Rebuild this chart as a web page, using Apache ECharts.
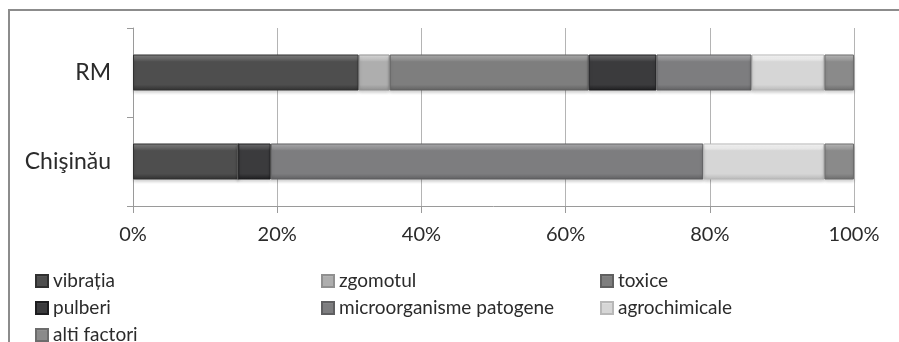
<!DOCTYPE html>
<html>
<head>
<meta charset="utf-8">
<script src="https://cdn.jsdelivr.net/npm/echarts@6/dist/echarts.min.js"></script>
<style>
  html, body { margin: 0; padding: 0; background: #fff; }
  #chart { width: 899px; height: 342px; }
</style>
</head>
<body>
<div id="chart"></div>
<script>
// Regions (top to bottom)
const categories = ['RM', 'Chişinău'];

// Share of each pollution factor, % (values per region, same order as categories)
const vibratia       = [31.3, 14.6];
const zgomotul       = [4.3, 0];
const toxice         = [27.6, 0];
const pulberi        = [9.4, 4.5];
const microorganisme = [13.2, 60.0];
const agrochimicale  = [10.1, 16.8];
const altiFactori    = [4.1, 4.1];

// Value axis ticks
const tickValues = [0, 20, 40, 60, 80, 100];

const seriesDefs = [
  { name: 'vibrația',                 data: vibratia,       color: '#4e4e4e' },
  { name: 'zgomotul',                 data: zgomotul,       color: '#aeaeae' },
  { name: 'toxice',                   data: toxice,         color: '#7e7e7e' },
  { name: 'pulberi',                  data: pulberi,        color: '#3b3b3d' },
  { name: 'microorganisme patogene',  data: microorganisme, color: '#7d7d7f' },
  { name: 'agrochimicale',            data: agrochimicale,  color: '#d6d6d6' },
  { name: 'alti factori',             data: altiFactori,    color: '#8a8a8a' }
];

function shade(hex, amt) {
  const n = parseInt(hex.slice(1), 16);
  let r = (n >> 16) & 255, g = (n >> 8) & 255, b = n & 255;
  const f = v => Math.max(0, Math.min(255, Math.round(v + amt)));
  return 'rgb(' + f(r) + ',' + f(g) + ',' + f(b) + ')';
}

// Bevelled look: light top edge, flat body, darker bottom edge
function bevel(hex) {
  return new echarts.graphic.LinearGradient(0, 0, 0, 1, [
    { offset: 0,    color: shade(hex, 55) },
    { offset: 0.12, color: shade(hex, 25) },
    { offset: 0.2,  color: hex },
    { offset: 0.84, color: hex },
    { offset: 1,    color: shade(hex, -30) }
  ]);
}

const FONT = 'Lato';
const TXT = '#2b2b2b';

const chart = echarts.init(document.getElementById('chart'), null, { renderer: 'canvas' });

const legendCommon = {
  orient: 'vertical',
  top: 266,
  height: 100,
  itemWidth: 12,
  itemHeight: 12,
  itemGap: 7,
  icon: 'rect',
  textStyle: { fontFamily: FONT, fontSize: 19, color: TXT, lineHeight: 20 },
  selectedMode: false
};

chart.setOption({
  animation: false,
  backgroundColor: '#ffffff',
  graphic: [{
    type: 'rect',
    shape: { x: 9, y: 10, width: 1000, height: 500 },
    style: { fill: 'none', stroke: '#8c8c8c', lineWidth: 2 },
    silent: true
  }],
  grid: { left: 133, right: 45, top: 28, bottom: 136, containLabel: false },
  legend: [
    Object.assign({}, legendCommon, { left: 30, data: ['vibrația', 'pulberi', 'alti factori'] }),
    Object.assign({}, legendCommon, { left: 316, data: ['zgomotul', 'microorganisme patogene'] }),
    Object.assign({}, legendCommon, { left: 595, data: ['toxice', 'agrochimicale'] })
  ],
  xAxis: {
    type: 'value',
    min: tickValues[0],
    max: tickValues[tickValues.length - 1],
    interval: tickValues[1] - tickValues[0],
    axisLine: { show: true, lineStyle: { color: '#9a9a9a', width: 1 } },
    axisTick: { show: true, length: 7, lineStyle: { color: '#9a9a9a' } },
    splitLine: { show: true, lineStyle: { color: '#b4b4b4', width: 1 } },
    axisLabel: {
      formatter: '{value}%',
      margin: 19,
      fontFamily: FONT, fontSize: 20, color: TXT
    }
  },
  yAxis: {
    type: 'category',
    data: categories,
    inverse: true,
    axisLine: { show: true, lineStyle: { color: '#9a9a9a', width: 1 } },
    axisTick: { show: true, length: 6, lineStyle: { color: '#9a9a9a' } },
    axisLabel: { margin: 22, fontFamily: FONT, fontSize: 23, color: TXT }
  },
  series: seriesDefs.map(s => ({
    name: s.name,
    type: 'bar',
    stack: 'total',
    barWidth: 36,
    data: s.data,
    color: s.color,
    itemStyle: {
      color: bevel(s.color),
      borderColor: shade(s.color, -30),
      borderWidth: 1,
      shadowColor: 'rgba(0,0,0,0.18)',
      shadowBlur: 3,
      shadowOffsetY: 2
    },
    emphasis: { disabled: true }
  }))
});
</script>
</body>
</html>
